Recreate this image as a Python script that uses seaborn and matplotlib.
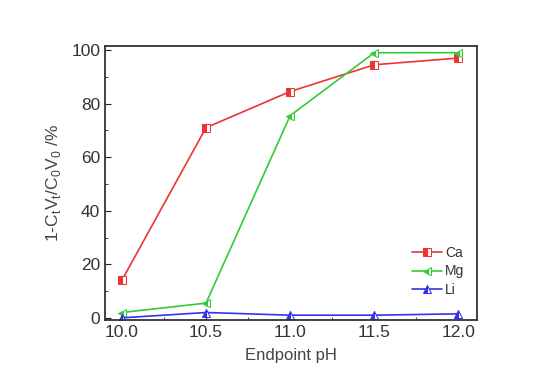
import matplotlib
matplotlib.use("Agg")
import matplotlib.pyplot as plt
import seaborn as sns
import pandas as pd

ph = [10.0, 10.5, 11.0, 11.5, 12.0]
ca = [14.0, 71.0, 84.5, 94.5, 97.0]
mg = [2.0, 5.5, 75.5, 99.0, 99.0]
li = [0.0, 2.0, 1.0, 1.0, 1.5]

sns.set_style("ticks")
plt.rcParams['font.family'] = ['Liberation Sans', 'DejaVu Sans']

df = pd.DataFrame({"pH": ph * 3, "val": ca + mg + li,
                   "ion": ["Ca"] * 5 + ["Mg"] * 5 + ["Li"] * 5})

fig = plt.figure(figsize=(5.43, 3.74), dpi=100)
ax = fig.add_axes([105 / 543, 1 - 320 / 374, 372 / 543, 274 / 374])

colors = {"Ca": "#ee3333", "Mg": "#33cc33", "Li": "#3333ee"}
markers = {"Ca": "s", "Mg": "<", "Li": "^"}
sns.lineplot(data=df, x="pH", y="val", hue="ion", palette=colors,
             style="ion", markers=markers, dashes=False, ax=ax,
             linewidth=1.2, markersize=6, legend=False)
for line, key in zip(ax.get_lines(), ["Ca", "Mg", "Li"]):
    line.set_fillstyle("left")
    line.set_markerfacecoloralt("white")
    line.set_markeredgecolor(colors[key])
    line.set_markerfacecolor(colors[key])
    line.set_label(key)

ax.set_xlim(9.9, 12.11)
ax.set_ylim(-0.8, 101.5)
ax.set_xticks([10.0, 10.5, 11.0, 11.5, 12.0])
ax.set_xticklabels(["10.0", "10.5", "11.0", "11.5", "12.0"])
ax.set_xticks([10.25, 10.75, 11.25, 11.75], minor=True)
ax.set_yticks([0, 20, 40, 60, 80, 100])
ax.set_yticks([10, 30, 50, 70, 90], minor=True)
ax.tick_params(which="both", direction="in", colors="#222222", labelsize=12.5,
               labelcolor="#333333")
ax.tick_params(which="major", length=4)
ax.tick_params(which="minor", length=2)
for s in ax.spines.values():
    s.set_linewidth(1.3)
    s.set_color("#333333")

ax.set_xlabel("Endpoint pH", fontsize=12, color="#444444", labelpad=6)
ax.set_ylabel(r"1-C$_\mathregular{t}$V$_\mathregular{t}$/C$_\mathregular{0}$V$_\mathregular{0}$ /%",
              fontsize=12.5, color="#444444", labelpad=6)

ax.legend(loc="lower right", bbox_to_anchor=(1.0, 0.04), frameon=False,
          fontsize=10, handlelength=2.2, handletextpad=0.2, labelspacing=0.3,
          labelcolor="#333333")

fig.savefig("out.png", dpi=100, facecolor="white")
